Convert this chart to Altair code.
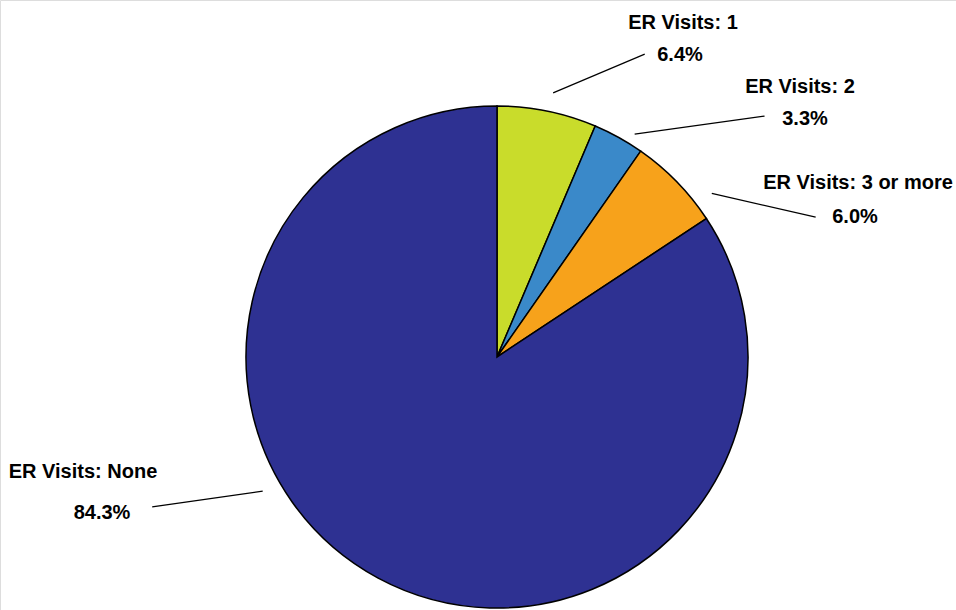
import altair as alt
import pandas as pd
import numpy as np

# ---- data ----
categories = ["ER Visits: 1", "ER Visits: 2", "ER Visits: 3 or more", "ER Visits: None"]
shares = [6.4, 3.3, 6.0, 84.3]
colors = ["#C9DC2B", "#3A89C9", "#F7A21B", "#2E3192"]

# ---- layout (pixels in a 956x610 canvas) ----
W, H = 956, 610
CX, CY, R = 497, 357, 251
# leader lines: start/end as (angle deg clockwise from top, radius from centre)
lead_start = [(12.0, 270), (31.7, 262), (52.7, 270), (240.2, 270)]
lead_end = [(26.0, 337), (48.0, 360), (66.3, 348), (246.5, 376)]
# label text centres (name line, value line), offsets from pie centre
name_off = [(186, -334), (303, -270), (361, -174), (-414, 115)]
value_off = [(183, -302), (308, -238), (358, -140), (-395, 156)]

def polar(a, r):
    t = np.deg2rad(a)
    return CX + r * np.sin(t), CY - r * np.cos(t)

pie_df = pd.DataFrame({"cat": categories, "share": shares, "order": range(len(categories))})

rows = []
for i, c in enumerate(categories):
    x1, y1 = polar(*lead_start[i])
    x2, y2 = polar(*lead_end[i])
    rows.append({"cat": c, "x": x1, "y": y1, "x2": x2, "y2": y2})
lead_df = pd.DataFrame(rows)

trows = []
for i, c in enumerate(categories):
    trows.append({"txt": c, "x": CX + name_off[i][0], "y": CY + name_off[i][1]})
    trows.append({"txt": f"{shares[i]:.1f}%", "x": CX + value_off[i][0], "y": CY + value_off[i][1]})
text_df = pd.DataFrame(trows)

xs = alt.Scale(domain=[0, W], range=[0, W], nice=False, zero=False)
ys = alt.Scale(domain=[0, H], range=[0, H], nice=False, zero=False)

pie = alt.Chart(pie_df).mark_arc(radius=R, stroke="black", strokeWidth=1.5).encode(
    theta=alt.Theta("share:Q", stack=True),
    order=alt.Order("order:Q"),
    color=alt.Color("cat:N", scale=alt.Scale(domain=categories, range=colors), legend=None),
    x=alt.value(CX),
    y=alt.value(CY),
)

leads = alt.Chart(lead_df).mark_rule(color="black", strokeWidth=1.2).encode(
    x=alt.X("x:Q", scale=xs, axis=None),
    y=alt.Y("y:Q", scale=ys, axis=None),
    x2="x2:Q",
    y2="y2:Q",
)

labels = alt.Chart(text_df).mark_text(
    font="'Liberation Sans'",
    fontWeight="bold",
    fontSize=20,
    align="center",
    baseline="middle",
    color="black",
).encode(
    x=alt.X("x:Q", scale=xs, axis=None),
    y=alt.Y("y:Q", scale=ys, axis=None),
    text="txt:N",
)

chart = alt.layer(pie, leads, labels).properties(
    width=W, height=H, padding=0, autosize=alt.AutoSizeParams(type="none")
).configure_view(stroke=None).configure(background="white")

chart.save("out.html", embed_options={"renderer": "svg", "actions": False})
